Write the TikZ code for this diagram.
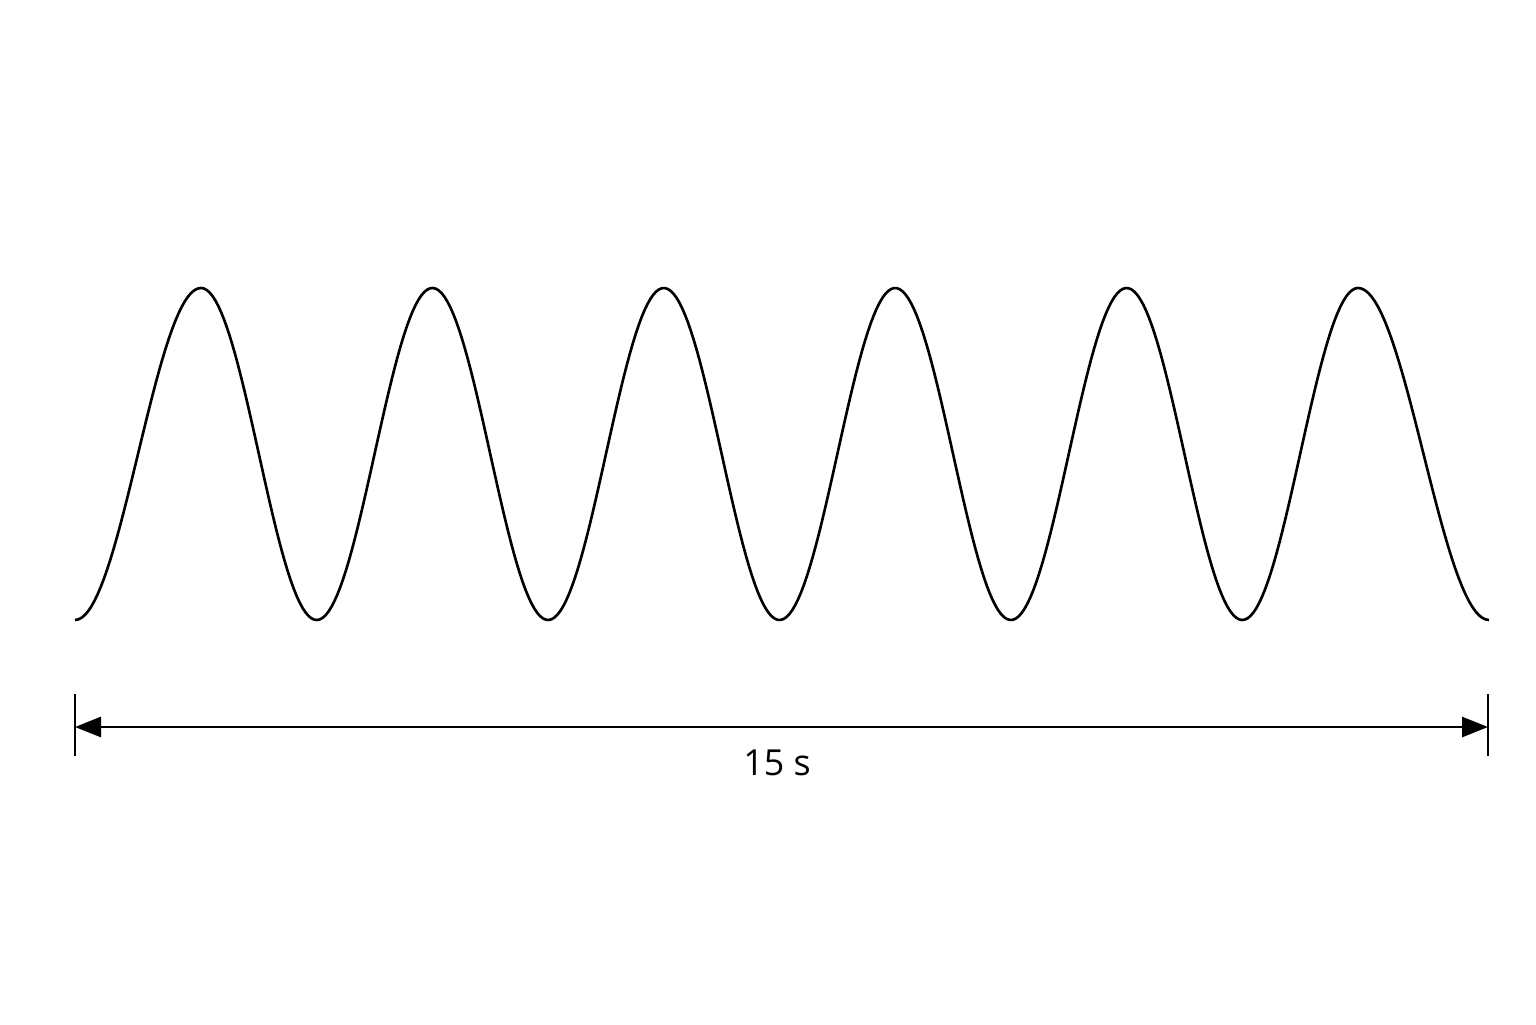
\documentclass[tikz,border=0pt]{standalone}
\usepackage{fontspec}
\setmainfont{Open Sans}
\usetikzlibrary{arrows.meta}

\begin{document}
\begin{tikzpicture}
    \useasboundingbox (0,0) rectangle (15.36,10.24);

    % Wave
    \draw[line width=0.75pt]
        plot[domain=0.75:2.01, samples=40] (\x, {5.70-1.66*cos(180*(\x-0.75)/1.26)})
        -- plot[domain=2.01:13.58, samples=400] (\x, {5.70+1.66*cos(360*(\x-2.01)/2.314)})
        -- plot[domain=13.58:14.89, samples=40] (\x, {5.70+1.66*cos(180*(\x-13.58)/1.31)});

    % Span
    \coordinate (start) at (0.75,2.97);
    \coordinate (end) at (14.88,2.97);
    \draw[line width=0.8pt] ([yshift=-0.29cm]start) -- ([yshift=0.33cm]start);
    \draw[line width=0.8pt] ([yshift=-0.29cm]end) -- ([yshift=0.33cm]end);
    \draw[line width=0.8pt, {Triangle[length=0.26cm,width=0.2cm]}-{Triangle[length=0.26cm,width=0.2cm]}] (start) -- (end);

    % Label
    \node (span) at (7.77,2.61) {\fontsize{10.2}{12}\selectfont 15 s};
\end{tikzpicture}
\end{document}
